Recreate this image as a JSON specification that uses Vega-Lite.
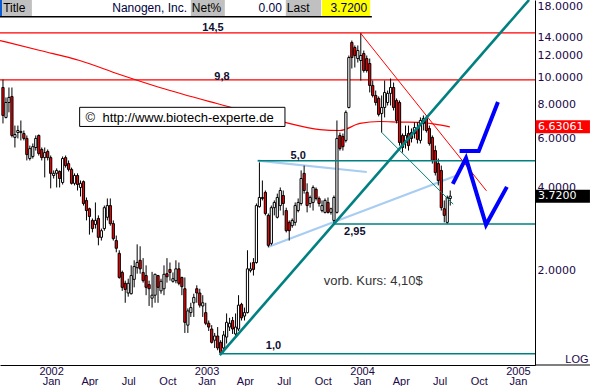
{
"$schema": "https://vega.github.io/schema/vega-lite/v6.json",
"width": 535, "height": 365,
"autosize": {"type": "none"},
"padding": {"left": 0, "top": 0, "right": 55, "bottom": 21},
"background": "#ffffff",
"config": {
 "view": {"stroke": null},
 "font": "Liberation Sans",
 "axisX": {"grid": false, "ticks": false, "domainColor": "#000000", "domainWidth": 1, "labelPadding": 0, "labelFont": "Liberation Sans", "labelFontSize": 11, "labelColor": "#200848", "labelLineHeight": 10.5, "labelOverlap": false, "labelFlush": false, "labelBound": false},
 "axisY": {"grid": false, "ticks": false, "domainColor": "#000000", "domainWidth": 1, "labelPadding": 2, "labelAlign": "left", "labelBaseline": "middle", "labelFont": "DejaVu Sans", "labelFontSize": 11, "labelColor": "#200848", "labelOverlap": false, "labelFlush": false, "labelBound": false, "titleAngle": 0, "titleAlign": "right", "titleBaseline": "middle", "titleX": 53, "titleY": 359, "titleFont": "Liberation Sans", "titleFontSize": 11, "titleFontWeight": "normal", "titleColor": "#200848"}
},
"datasets": {
"candles": [
{"d":"2001-09-10","o":9.2,"h":9.83,"l":6.82,"c":7.29},
{"d":"2001-09-17","o":7.17,"h":8.47,"l":7.11,"c":8.12},
{"d":"2001-09-24","o":8.12,"h":9.2,"l":7.48,"c":8.47},
{"d":"2001-10-01","o":8.54,"h":9.2,"l":6.07,"c":6.17},
{"d":"2001-10-08","o":6.07,"h":6.7,"l":5.58,"c":6.22},
{"d":"2001-10-15","o":6.32,"h":6.7,"l":6.02,"c":6.43},
{"d":"2001-10-22","o":6.32,"h":6.99,"l":5.92,"c":6.38},
{"d":"2001-10-29","o":6.27,"h":6.43,"l":5.92,"c":6.02},
{"d":"2001-11-05","o":6.02,"h":6.17,"l":5.01,"c":5.26},
{"d":"2001-11-12","o":5.09,"h":5.67,"l":5.01,"c":5.53},
{"d":"2001-11-19","o":5.18,"h":5.77,"l":5.09,"c":5.62},
{"d":"2001-11-26","o":5.58,"h":6.17,"l":5.44,"c":6.02},
{"d":"2001-12-03","o":6.17,"h":6.22,"l":5.22,"c":5.31},
{"d":"2001-12-10","o":5.49,"h":5.58,"l":5.01,"c":5.13},
{"d":"2001-12-17","o":5.13,"h":5.58,"l":4.35,"c":5.35},
{"d":"2001-12-24","o":5.4,"h":5.49,"l":5.01,"c":5.13},
{"d":"2001-12-31","o":5.13,"h":5.22,"l":3.97,"c":4.5},
{"d":"2002-01-07","o":4.42,"h":4.61,"l":4.31,"c":4.5},
{"d":"2002-01-14","o":4.5,"h":4.69,"l":4.0,"c":4.61},
{"d":"2002-01-21","o":4.57,"h":4.61,"l":4.0,"c":4.31},
{"d":"2002-01-28","o":4.17,"h":5.18,"l":4.1,"c":5.09},
{"d":"2002-02-04","o":5.13,"h":5.22,"l":4.72,"c":4.8},
{"d":"2002-02-11","o":4.88,"h":5.01,"l":4.57,"c":4.65},
{"d":"2002-02-18","o":4.65,"h":4.72,"l":4.1,"c":4.14},
{"d":"2002-02-25","o":4.14,"h":4.5,"l":4.07,"c":4.42},
{"d":"2002-03-04","o":4.42,"h":4.5,"l":3.9,"c":4.1},
{"d":"2002-03-11","o":4.0,"h":4.24,"l":3.71,"c":4.14},
{"d":"2002-03-18","o":4.2,"h":4.24,"l":3.44,"c":3.5},
{"d":"2002-03-25","o":3.59,"h":3.68,"l":3.04,"c":3.3},
{"d":"2002-04-01","o":3.35,"h":3.38,"l":2.7,"c":3.14},
{"d":"2002-04-08","o":3.04,"h":3.09,"l":2.75,"c":2.84},
{"d":"2002-04-15","o":2.94,"h":3.53,"l":2.84,"c":3.04},
{"d":"2002-04-22","o":3.09,"h":3.17,"l":2.47,"c":2.64},
{"d":"2002-04-29","o":2.64,"h":2.84,"l":2.57,"c":2.79},
{"d":"2002-05-06","o":2.84,"h":3.44,"l":2.79,"c":3.38},
{"d":"2002-05-13","o":3.12,"h":3.65,"l":3.04,"c":3.44},
{"d":"2002-05-20","o":3.44,"h":3.65,"l":2.91,"c":2.96},
{"d":"2002-05-27","o":2.96,"h":3.04,"l":2.57,"c":2.61},
{"d":"2002-06-03","o":2.57,"h":2.68,"l":2.33,"c":2.41},
{"d":"2002-06-10","o":2.31,"h":2.37,"l":1.87,"c":1.89},
{"d":"2002-06-17","o":1.97,"h":2.0,"l":1.69,"c":1.74},
{"d":"2002-06-24","o":1.8,"h":1.84,"l":1.53,"c":1.71},
{"d":"2002-07-01","o":1.66,"h":1.87,"l":1.61,"c":1.8},
{"d":"2002-07-08","o":1.65,"h":2.09,"l":1.64,"c":1.92},
{"d":"2002-07-15","o":1.86,"h":2.18,"l":1.74,"c":2.07},
{"d":"2002-07-22","o":2.05,"h":2.49,"l":1.95,"c":2.14},
{"d":"2002-07-29","o":2.18,"h":2.45,"l":1.95,"c":2.03},
{"d":"2002-08-05","o":1.97,"h":2.22,"l":1.81,"c":1.84},
{"d":"2002-08-12","o":1.92,"h":2.09,"l":1.63,"c":1.74},
{"d":"2002-08-19","o":1.78,"h":1.84,"l":1.49,"c":1.72},
{"d":"2002-08-26","o":1.59,"h":1.98,"l":1.47,"c":1.63},
{"d":"2002-09-02","o":1.63,"h":1.95,"l":1.53,"c":1.94},
{"d":"2002-09-09","o":1.92,"h":1.93,"l":1.53,"c":1.74},
{"d":"2002-09-16","o":1.69,"h":1.87,"l":1.65,"c":1.83},
{"d":"2002-09-23","o":1.72,"h":2.09,"l":1.63,"c":1.94},
{"d":"2002-09-30","o":1.95,"h":2.22,"l":1.81,"c":1.9},
{"d":"2002-10-07","o":2.02,"h":2.14,"l":1.84,"c":1.97},
{"d":"2002-10-14","o":1.83,"h":1.97,"l":1.81,"c":1.87},
{"d":"2002-10-21","o":1.84,"h":2.18,"l":1.8,"c":2.03},
{"d":"2002-10-28","o":2.03,"h":2.14,"l":1.77,"c":1.8},
{"d":"2002-11-04","o":1.89,"h":1.9,"l":1.63,"c":1.75},
{"d":"2002-11-11","o":1.72,"h":1.89,"l":1.19,"c":1.3},
{"d":"2002-11-18","o":1.27,"h":1.46,"l":1.19,"c":1.43},
{"d":"2002-11-25","o":1.41,"h":1.53,"l":1.36,"c":1.47},
{"d":"2002-12-02","o":1.53,"h":1.65,"l":1.36,"c":1.6},
{"d":"2002-12-09","o":1.72,"h":1.77,"l":1.53,"c":1.66},
{"d":"2002-12-16","o":1.66,"h":1.72,"l":1.47,"c":1.5},
{"d":"2002-12-23","o":1.49,"h":1.63,"l":1.36,"c":1.53},
{"d":"2002-12-30","o":1.41,"h":1.53,"l":1.27,"c":1.29},
{"d":"2003-01-06","o":1.29,"h":1.32,"l":1.21,"c":1.25},
{"d":"2003-01-13","o":1.23,"h":1.27,"l":1.09,"c":1.1},
{"d":"2003-01-20","o":1.12,"h":1.19,"l":1.05,"c":1.16},
{"d":"2003-01-27","o":1.16,"h":1.25,"l":1.03,"c":1.05},
{"d":"2003-02-03","o":1.1,"h":1.12,"l":0.99,"c":1.01},
{"d":"2003-02-10","o":1.05,"h":1.21,"l":1.01,"c":1.17},
{"d":"2003-02-17","o":1.15,"h":1.4,"l":1.09,"c":1.3},
{"d":"2003-02-24","o":1.25,"h":1.35,"l":1.21,"c":1.29},
{"d":"2003-03-03","o":1.32,"h":1.36,"l":1.18,"c":1.23},
{"d":"2003-03-10","o":1.18,"h":1.4,"l":1.14,"c":1.25},
{"d":"2003-03-17","o":1.23,"h":1.63,"l":1.21,"c":1.5},
{"d":"2003-03-24","o":1.51,"h":1.53,"l":1.32,"c":1.35},
{"d":"2003-03-31","o":1.37,"h":1.47,"l":1.32,"c":1.41},
{"d":"2003-04-07","o":1.41,"h":2.37,"l":1.4,"c":2.03},
{"d":"2003-04-14","o":2.0,"h":2.14,"l":1.97,"c":2.03},
{"d":"2003-04-21","o":2.14,"h":2.22,"l":1.92,"c":2.02},
{"d":"2003-04-28","o":2.14,"h":3.5,"l":2.12,"c":3.44},
{"d":"2003-05-05","o":3.41,"h":4.93,"l":3.38,"c":3.68},
{"d":"2003-05-12","o":3.65,"h":4.24,"l":3.59,"c":3.68},
{"d":"2003-05-19","o":3.84,"h":3.9,"l":3.17,"c":3.22},
{"d":"2003-05-26","o":3.17,"h":3.22,"l":2.43,"c":2.47},
{"d":"2003-06-02","o":2.51,"h":3.44,"l":2.47,"c":3.38},
{"d":"2003-06-09","o":3.38,"h":3.59,"l":3.17,"c":3.53},
{"d":"2003-06-16","o":3.12,"h":3.8,"l":3.09,"c":3.68},
{"d":"2003-06-23","o":3.44,"h":4.0,"l":3.3,"c":3.9},
{"d":"2003-06-30","o":3.74,"h":3.9,"l":3.17,"c":3.5},
{"d":"2003-07-07","o":3.3,"h":3.38,"l":2.75,"c":2.79},
{"d":"2003-07-14","o":2.99,"h":3.04,"l":2.57,"c":2.79},
{"d":"2003-07-21","o":2.91,"h":3.09,"l":2.86,"c":3.04},
{"d":"2003-07-28","o":2.99,"h":3.53,"l":2.91,"c":3.44},
{"d":"2003-08-04","o":3.3,"h":3.65,"l":3.25,"c":3.53},
{"d":"2003-08-11","o":3.5,"h":4.61,"l":3.44,"c":4.31},
{"d":"2003-08-18","o":4.5,"h":4.8,"l":3.8,"c":3.9},
{"d":"2003-08-25","o":3.84,"h":4.14,"l":3.25,"c":3.44},
{"d":"2003-09-01","o":3.5,"h":3.74,"l":3.38,"c":3.68},
{"d":"2003-09-08","o":3.53,"h":4.07,"l":3.3,"c":4.0},
{"d":"2003-09-15","o":3.94,"h":4.0,"l":3.59,"c":3.65},
{"d":"2003-09-22","o":3.65,"h":3.71,"l":3.41,"c":3.5},
{"d":"2003-09-29","o":3.3,"h":3.59,"l":3.25,"c":3.44},
{"d":"2003-10-06","o":3.25,"h":3.65,"l":3.22,"c":3.59},
{"d":"2003-10-13","o":3.53,"h":3.68,"l":3.22,"c":3.25},
{"d":"2003-10-20","o":3.25,"h":3.38,"l":3.19,"c":3.35},
{"d":"2003-10-27","o":3.04,"h":3.74,"l":2.95,"c":3.68},
{"d":"2003-11-03","o":3.25,"h":6.99,"l":3.22,"c":6.02},
{"d":"2003-11-10","o":6.17,"h":6.32,"l":5.44,"c":5.53},
{"d":"2003-11-17","o":6.12,"h":6.27,"l":5.44,"c":5.62},
{"d":"2003-11-24","o":5.92,"h":7.6,"l":5.82,"c":7.48},
{"d":"2003-12-01","o":7.79,"h":12.01,"l":7.73,"c":11.81},
{"d":"2003-12-08","o":13.39,"h":13.61,"l":10.78,"c":11.81},
{"d":"2003-12-15","o":12.84,"h":13.06,"l":10.87,"c":12.01},
{"d":"2003-12-22","o":11.71,"h":13.06,"l":11.33,"c":12.52},
{"d":"2003-12-29","o":11.52,"h":14.5,"l":9.75,"c":12.01},
{"d":"2004-01-05","o":12.21,"h":12.52,"l":10.42,"c":10.6},
{"d":"2004-01-12","o":11.71,"h":12.01,"l":10.42,"c":10.6},
{"d":"2004-01-19","o":11.24,"h":11.71,"l":8.83,"c":9.36},
{"d":"2004-01-26","o":9.36,"h":9.75,"l":8.47,"c":8.61},
{"d":"2004-02-02","o":8.61,"h":8.97,"l":7.92,"c":8.12},
{"d":"2004-02-09","o":8.4,"h":8.54,"l":7.23,"c":7.35},
{"d":"2004-02-16","o":7.41,"h":8.61,"l":6.32,"c":7.79},
{"d":"2004-02-23","o":7.79,"h":9.75,"l":7.17,"c":8.83},
{"d":"2004-03-01","o":8.12,"h":8.97,"l":7.92,"c":8.76},
{"d":"2004-03-08","o":8.76,"h":9.92,"l":7.92,"c":9.2},
{"d":"2004-03-15","o":9.2,"h":9.59,"l":7.6,"c":7.79},
{"d":"2004-03-22","o":8.26,"h":8.4,"l":6.82,"c":6.99},
{"d":"2004-03-29","o":8.12,"h":8.26,"l":5.67,"c":5.82},
{"d":"2004-04-05","o":6.17,"h":6.27,"l":5.35,"c":5.58},
{"d":"2004-04-12","o":5.82,"h":6.7,"l":5.53,"c":6.17},
{"d":"2004-04-19","o":6.27,"h":6.7,"l":5.44,"c":5.67},
{"d":"2004-04-26","o":6.32,"h":6.54,"l":5.82,"c":6.02},
{"d":"2004-05-03","o":6.27,"h":6.88,"l":6.02,"c":6.59},
{"d":"2004-05-10","o":6.54,"h":6.88,"l":5.77,"c":5.97},
{"d":"2004-05-17","o":5.92,"h":7.17,"l":5.77,"c":6.99},
{"d":"2004-05-24","o":6.82,"h":7.29,"l":6.43,"c":7.11},
{"d":"2004-05-31","o":7.11,"h":7.29,"l":6.32,"c":6.43},
{"d":"2004-06-07","o":6.54,"h":6.7,"l":5.67,"c":5.77},
{"d":"2004-06-14","o":6.07,"h":6.17,"l":4.88,"c":5.01},
{"d":"2004-06-21","o":5.44,"h":5.67,"l":4.42,"c":4.53},
{"d":"2004-06-28","o":4.88,"h":5.09,"l":4.07,"c":4.24},
{"d":"2004-07-05","o":4.61,"h":4.8,"l":3.3,"c":3.38},
{"d":"2004-07-12","o":3.35,"h":3.59,"l":2.99,"c":3.17},
{"d":"2004-07-19","o":2.99,"h":3.74,"l":2.95,"c":3.68},
{"d":"2004-07-26","o":3.65,"h":3.9,"l":3.44,"c":3.72}
],
"ma": [
{"date":"2001-09-03","price":13.61},
{"date":"2001-12-06","price":12.52},
{"date":"2002-03-09","price":11.52},
{"date":"2002-06-11","price":10.25},
{"date":"2002-09-13","price":9.2},
{"date":"2003-01-25","price":8.05},
{"date":"2003-04-13","price":7.48},
{"date":"2003-07-04","price":6.88},
{"date":"2003-09-24","price":6.48},
{"date":"2003-11-10","price":6.43},
{"date":"2003-12-27","price":6.82},
{"date":"2004-02-12","price":6.93},
{"date":"2004-03-30","price":6.9},
{"date":"2004-05-16","price":6.88},
{"date":"2004-06-20","price":6.78},
{"date":"2004-07-25","price":6.63}
],
"redlevels": [{"level":14.5},{"level":9.8}],
"tealevels": [
{"level":5.0,"from":"2003-05-01"},
{"level":2.95,"from":"2003-10-25"},
{"level":1.0,"from":"2003-02-01"}
],
"lines": [
{"group":"lightblue","id":"lb1","date":"2003-05-01","price":5.0},
{"group":"lightblue","id":"lb1","date":"2004-01-12","price":4.55},
{"group":"lightblue","id":"lb2","date":"2003-05-25","price":2.435},
{"group":"lightblue","id":"lb2","date":"2004-08-13","price":4.44},
{"group":"tealthin","id":"tt","date":"2004-02-16","price":6.33},
{"group":"tealthin","id":"tt","date":"2004-08-02","price":3.48},
{"group":"redthin","id":"rt","date":"2003-12-28","price":14.5},
{"group":"redthin","id":"rt","date":"2004-10-19","price":3.89},
{"group":"tealthick","id":"tk","date":"2003-02-01","price":0.99},
{"group":"tealthick","id":"tk","date":"2005-01-27","price":19.08},
{"group":"forecast","id":"fa","date":"2004-08-01","price":4.12},
{"group":"forecast","id":"fa","date":"2004-09-01","price":5.11},
{"group":"forecast","id":"fa","date":"2004-10-18","price":2.93},
{"group":"forecast","id":"fa","date":"2004-12-06","price":4.02},
{"group":"forecast","id":"fb","date":"2004-08-17","price":5.42},
{"group":"forecast","id":"fb","date":"2004-10-01","price":5.42},
{"group":"forecast","id":"fb","date":"2004-11-15","price":8.15}
],
"labels": [
{"text":"14,5","date":"2003-01-16","price":14.73},
{"text":"9,8","date":"2003-02-06","price":9.79},
{"text":"5,0","date":"2003-08-04","price":5.07},
{"text":"2,95","date":"2003-12-15","price":2.69},
{"text":"1,0","date":"2003-06-07","price":1.041}
],
"note": [{"text":"vorb. Kurs: 4,10$","date":"2003-10-03","price":1.774}],
"box": [{"from":"2002-03-09","to":"2003-07-04","top":7.8,"bottom":6.65,"text":"\u00a9\u00a0\u00a0http://www.biotech-experte.de","textDate":"2002-03-23","textPrice":6.93}],
"last": [{"label":"6.63061","value":6.63061,"kind":"ma"},{"label":"3.7200","value":3.72,"kind":"price"}],
"header": [
{"kind":"edge","from":"2001-09-03","to":"2001-09-08"},
{"kind":"label","from":"2001-09-08","to":"2001-11-17","text":"Title"},
{"kind":"field","from":"2001-11-17","to":"2002-11-23","text":"Nanogen, Inc."},
{"kind":"label","from":"2002-11-25","to":"2003-02-13","text":"Net%"},
{"kind":"field","from":"2003-02-13","to":"2003-07-04","text":"0.00"},
{"kind":"label","from":"2003-07-06","to":"2003-09-27","text":"Last"},
{"kind":"last","from":"2003-09-29","to":"2004-01-20","text":"3.7200"}
],
"headerline": [{"from":"2001-09-03","to":"2004-01-24","level":16.58}]
},
"layer": [
{"data":{"name":"ma"},
 "mark":{"type":"line","color":"#ff0000","strokeWidth":1.2,"interpolate":"monotone"},
 "encoding":{
  "x":{"field":"date","type":"temporal",
   "scale":{"type":"utc","padding":0,"domain":[{"year":2001,"month":9,"date":3,"utc":true},{"year":2005,"month":2,"date":10,"utc":true}]},
   "axis":{"orient":"bottom","title":null,
    "values":[{"year":2002,"month":1,"date":1,"utc":true},{"year":2002,"month":4,"date":1,"utc":true},{"year":2002,"month":7,"date":1,"utc":true},{"year":2002,"month":10,"date":1,"utc":true},{"year":2003,"month":1,"date":1,"utc":true},{"year":2003,"month":4,"date":1,"utc":true},{"year":2003,"month":7,"date":1,"utc":true},{"year":2003,"month":10,"date":1,"utc":true},{"year":2004,"month":1,"date":1,"utc":true},{"year":2004,"month":4,"date":1,"utc":true},{"year":2004,"month":7,"date":1,"utc":true},{"year":2004,"month":10,"date":1,"utc":true},{"year":2005,"month":1,"date":1,"utc":true}],
    "labelExpr":"utcmonth(datum.value) == 0 ? [utcFormat(datum.value, '%Y'), 'Jan'] : ['', utcFormat(datum.value, '%b')]"}},
  "y":{"field":"price","type":"quantitative",
   "scale":{"type":"log","padding":0,"domain":[0.9111,19.076],"nice":false},
   "axis":{"orient":"right","title":"LOG","values":[2,4,6,8,10,12,14,18],"labelExpr":"format(datum.value, '.4f')"}}
 }},
{"data":{"name":"redlevels"},
 "mark":{"type":"rule","color":"#ff0000","strokeWidth":1.2},
 "encoding":{"y":{"field":"level","type":"quantitative","scale":{"type":"log","padding":0,"domain":[0.9111,19.076],"nice":false}}}},
{"data":{"name":"lines"},
 "transform":[{"filter":"datum.group == 'lightblue'"}],
 "mark":{"type":"line","color":"#a8cdf2","strokeWidth":2.2},
 "encoding":{
  "x":{"field":"date","type":"temporal","scale":{"type":"utc","padding":0,"domain":[{"year":2001,"month":9,"date":3,"utc":true},{"year":2005,"month":2,"date":10,"utc":true}]}},
  "y":{"field":"price","type":"quantitative","scale":{"type":"log","padding":0,"domain":[0.9111,19.076],"nice":false}},
  "detail":{"field":"id"}}},
{"data":{"name":"candles"},
 "mark":{"type":"rule","color":"#000000","strokeWidth":1},
 "encoding":{
  "x":{"field":"d","type":"temporal","scale":{"type":"utc","padding":0,"domain":[{"year":2001,"month":9,"date":3,"utc":true},{"year":2005,"month":2,"date":10,"utc":true}]}},
  "y":{"field":"l","type":"quantitative","scale":{"type":"log","padding":0,"domain":[0.9111,19.076],"nice":false}},
  "y2":{"field":"h"}}},
{"data":{"name":"candles"},
 "mark":{"type":"bar","size":2.2,"stroke":"#000000","strokeWidth":1},
 "encoding":{
  "x":{"field":"d","type":"temporal","scale":{"type":"utc","padding":0,"domain":[{"year":2001,"month":9,"date":3,"utc":true},{"year":2005,"month":2,"date":10,"utc":true}]}},
  "y":{"field":"o","type":"quantitative","scale":{"type":"log","padding":0,"domain":[0.9111,19.076],"nice":false}},
  "y2":{"field":"c"},
  "fill":{"condition":{"test":"datum.c < datum.o","value":"#ff0000"},"value":"#ffffff"}}},
{"data":{"name":"tealevels"},
 "mark":{"type":"rule","color":"#008080","strokeWidth":1.5},
 "encoding":{
  "x":{"field":"from","type":"temporal","scale":{"type":"utc","padding":0,"domain":[{"year":2001,"month":9,"date":3,"utc":true},{"year":2005,"month":2,"date":10,"utc":true}]}},
  "x2":{"datum":{"year":2005,"month":2,"date":10,"utc":true}},
  "y":{"field":"level","type":"quantitative","scale":{"type":"log","padding":0,"domain":[0.9111,19.076],"nice":false}}}},
{"data":{"name":"lines"},
 "transform":[{"filter":"datum.group == 'tealthin'"}],
 "mark":{"type":"line","color":"#008080","strokeWidth":1},
 "encoding":{
  "x":{"field":"date","type":"temporal","scale":{"type":"utc","padding":0,"domain":[{"year":2001,"month":9,"date":3,"utc":true},{"year":2005,"month":2,"date":10,"utc":true}]}},
  "y":{"field":"price","type":"quantitative","scale":{"type":"log","padding":0,"domain":[0.9111,19.076],"nice":false}}}},
{"data":{"name":"lines"},
 "transform":[{"filter":"datum.group == 'redthin'"}],
 "mark":{"type":"line","color":"#ff0000","strokeWidth":1},
 "encoding":{
  "x":{"field":"date","type":"temporal","scale":{"type":"utc","padding":0,"domain":[{"year":2001,"month":9,"date":3,"utc":true},{"year":2005,"month":2,"date":10,"utc":true}]}},
  "y":{"field":"price","type":"quantitative","scale":{"type":"log","padding":0,"domain":[0.9111,19.076],"nice":false}}}},
{"data":{"name":"lines"},
 "transform":[{"filter":"datum.group == 'tealthick'"}],
 "mark":{"type":"line","color":"#008080","strokeWidth":2.6,"clip":true},
 "encoding":{
  "x":{"field":"date","type":"temporal","scale":{"type":"utc","padding":0,"domain":[{"year":2001,"month":9,"date":3,"utc":true},{"year":2005,"month":2,"date":10,"utc":true}]}},
  "y":{"field":"price","type":"quantitative","scale":{"type":"log","padding":0,"domain":[0.9111,19.076],"nice":false}}}},
{"data":{"name":"lines"},
 "transform":[{"filter":"datum.group == 'forecast'"}],
 "mark":{"type":"line","color":"#0000ff","strokeWidth":4},
 "encoding":{
  "x":{"field":"date","type":"temporal","scale":{"type":"utc","padding":0,"domain":[{"year":2001,"month":9,"date":3,"utc":true},{"year":2005,"month":2,"date":10,"utc":true}]}},
  "y":{"field":"price","type":"quantitative","scale":{"type":"log","padding":0,"domain":[0.9111,19.076],"nice":false}},
  "detail":{"field":"id"}}},
{"data":{"name":"labels"},
 "mark":{"type":"text","align":"center","baseline":"alphabetic","font":"Liberation Sans","fontSize":11,"fontWeight":"bold","color":"#101030"},
 "encoding":{
  "x":{"field":"date","type":"temporal","scale":{"type":"utc","padding":0,"domain":[{"year":2001,"month":9,"date":3,"utc":true},{"year":2005,"month":2,"date":10,"utc":true}]}},
  "y":{"field":"price","type":"quantitative","scale":{"type":"log","padding":0,"domain":[0.9111,19.076],"nice":false}},
  "text":{"field":"text"}}},
{"data":{"name":"note"},
 "mark":{"type":"text","align":"left","baseline":"alphabetic","font":"Liberation Sans","fontSize":13,"color":"#333333"},
 "encoding":{
  "x":{"field":"date","type":"temporal","scale":{"type":"utc","padding":0,"domain":[{"year":2001,"month":9,"date":3,"utc":true},{"year":2005,"month":2,"date":10,"utc":true}]}},
  "y":{"field":"price","type":"quantitative","scale":{"type":"log","padding":0,"domain":[0.9111,19.076],"nice":false}},
  "text":{"field":"text"}}},
{"data":{"name":"box"},
 "mark":{"type":"rect","fill":"#ffffff","stroke":"#000000","strokeWidth":1},
 "encoding":{
  "x":{"field":"from","type":"temporal","scale":{"type":"utc","padding":0,"domain":[{"year":2001,"month":9,"date":3,"utc":true},{"year":2005,"month":2,"date":10,"utc":true}]}},
  "x2":{"field":"to"},
  "y":{"field":"top","type":"quantitative","scale":{"type":"log","padding":0,"domain":[0.9111,19.076],"nice":false}},
  "y2":{"field":"bottom"}}},
{"data":{"name":"box"},
 "mark":{"type":"text","align":"left","baseline":"alphabetic","font":"Liberation Sans","fontSize":13,"color":"#000000"},
 "encoding":{
  "x":{"field":"textDate","type":"temporal","scale":{"type":"utc","padding":0,"domain":[{"year":2001,"month":9,"date":3,"utc":true},{"year":2005,"month":2,"date":10,"utc":true}]}},
  "y":{"field":"textPrice","type":"quantitative","scale":{"type":"log","padding":0,"domain":[0.9111,19.076],"nice":false}},
  "text":{"field":"text"}}},
{"data":{"name":"last"},
 "mark":{"type":"bar","orient":"horizontal","size":13},
 "encoding":{
  "x":{"datum":{"year":2005,"month":2,"date":11,"utc":true},"type":"temporal","scale":{"type":"utc","padding":0,"domain":[{"year":2001,"month":9,"date":3,"utc":true},{"year":2005,"month":2,"date":10,"utc":true}]}},
  "x2":{"datum":{"year":2005,"month":6,"date":19,"utc":true}},
  "y":{"field":"value","type":"quantitative","scale":{"type":"log","padding":0,"domain":[0.9111,19.076],"nice":false}},
  "color":{"condition":{"test":"datum.kind == 'ma'","value":"#ff0000"},"value":"#000000"}}},
{"data":{"name":"last"},
 "mark":{"type":"text","align":"left","baseline":"middle","dx":3,"font":"DejaVu Sans","fontSize":11,"color":"#ffffff"},
 "encoding":{
  "x":{"datum":{"year":2005,"month":2,"date":10,"utc":true},"type":"temporal","scale":{"type":"utc","padding":0,"domain":[{"year":2001,"month":9,"date":3,"utc":true},{"year":2005,"month":2,"date":10,"utc":true}]}},
  "y":{"field":"value","type":"quantitative","scale":{"type":"log","padding":0,"domain":[0.9111,19.076],"nice":false}},
  "text":{"field":"label"}}},
{"data":{"values":[{}]},
 "mark":{"type":"rule","color":"#000000","strokeWidth":1},
 "encoding":{
  "x":{"datum":{"year":2005,"month":2,"date":10,"utc":true},"type":"temporal","scale":{"type":"utc","padding":0,"domain":[{"year":2001,"month":9,"date":3,"utc":true},{"year":2005,"month":2,"date":10,"utc":true}]}},
  "x2":{"datum":{"year":2005,"month":6,"date":19,"utc":true}},
  "y":{"datum":0.9111,"type":"quantitative","scale":{"type":"log","padding":0,"domain":[0.9111,19.076],"nice":false}}}},
{"data":{"name":"header"},
 "mark":{"type":"rect"},
 "encoding":{
  "x":{"field":"from","type":"temporal","scale":{"type":"utc","padding":0,"domain":[{"year":2001,"month":9,"date":3,"utc":true},{"year":2005,"month":2,"date":10,"utc":true}]}},
  "x2":{"field":"to"},
  "y":{"datum":19.076,"type":"quantitative","scale":{"type":"log","padding":0,"domain":[0.9111,19.076],"nice":false}},
  "y2":{"datum":16.69},
  "color":{"field":"kind","type":"nominal","scale":{"domain":["edge","label","field","last"],"range":["#0a5ad2","#c0c0c0","#ffffff","#ffff00"]},"legend":null}}},
{"data":{"name":"headerline"},
 "mark":{"type":"rule","color":"#000000","strokeWidth":1.5},
 "encoding":{
  "x":{"field":"from","type":"temporal","scale":{"type":"utc","padding":0,"domain":[{"year":2001,"month":9,"date":3,"utc":true},{"year":2005,"month":2,"date":10,"utc":true}]}},
  "x2":{"field":"to"},
  "y":{"field":"level","type":"quantitative","scale":{"type":"log","padding":0,"domain":[0.9111,19.076],"nice":false}}}},
{"data":{"name":"header"},
 "transform":[{"filter":"datum.kind == 'label'"}],
 "mark":{"type":"text","align":"left","baseline":"middle","dx":1,"font":"Liberation Sans","fontSize":12,"color":"#000000"},
 "encoding":{
  "x":{"field":"from","type":"temporal","scale":{"type":"utc","padding":0,"domain":[{"year":2001,"month":9,"date":3,"utc":true},{"year":2005,"month":2,"date":10,"utc":true}]}},
  "y":{"datum":17.85,"type":"quantitative","scale":{"type":"log","padding":0,"domain":[0.9111,19.076],"nice":false}},
  "text":{"field":"text"}}},
{"data":{"name":"header"},
 "transform":[{"filter":"datum.kind == 'field' || datum.kind == 'last'"}],
 "mark":{"type":"text","align":"right","baseline":"middle","dx":-3,"font":"Liberation Sans","fontSize":12,"color":"#000040"},
 "encoding":{
  "x":{"field":"to","type":"temporal","scale":{"type":"utc","padding":0,"domain":[{"year":2001,"month":9,"date":3,"utc":true},{"year":2005,"month":2,"date":10,"utc":true}]}},
  "y":{"datum":17.85,"type":"quantitative","scale":{"type":"log","padding":0,"domain":[0.9111,19.076],"nice":false}},
  "text":{"field":"text"}}}
]
}
